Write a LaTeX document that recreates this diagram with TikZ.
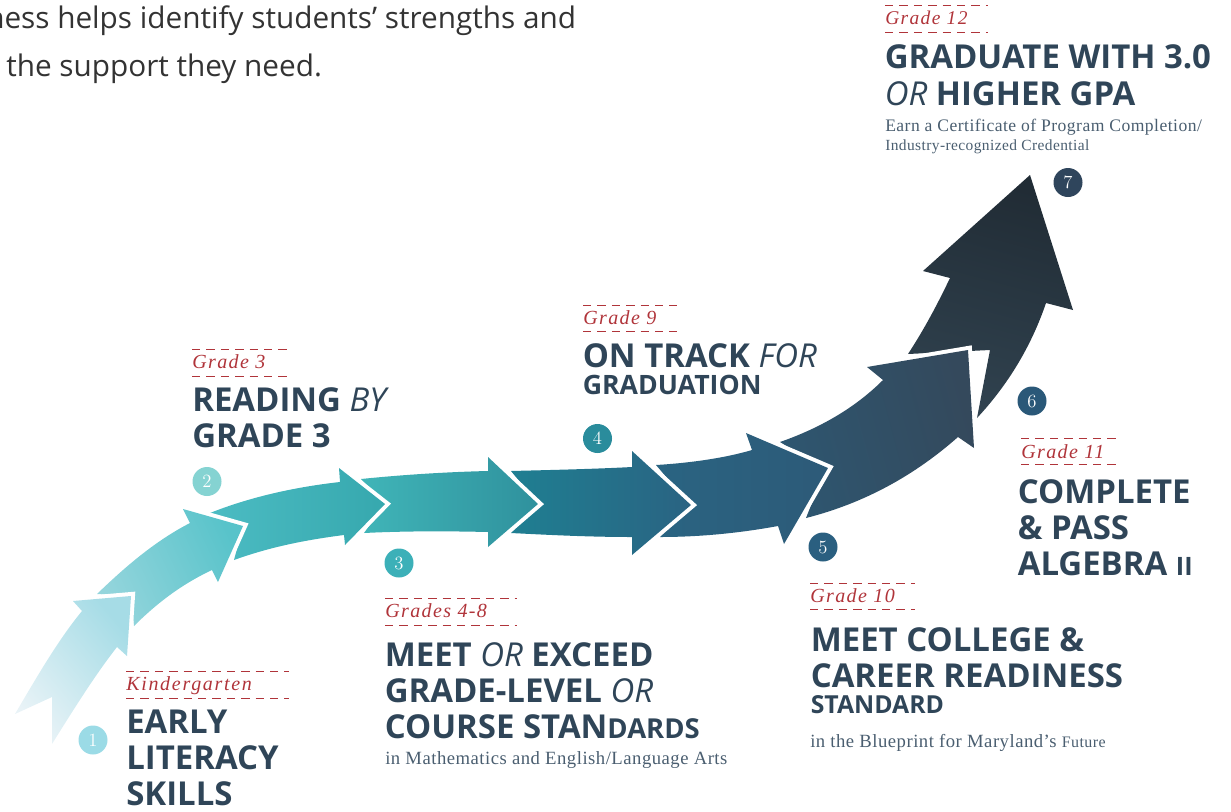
\documentclass[tikz,border=0pt]{standalone}
\usepackage{fontspec}
\setmainfont{Open Sans}
\newfontfamily\lorafont{Liberation Serif}
\newfontfamily\loraA[LetterSpace=2.7]{Liberation Serif}
\newfontfamily\loraB[LetterSpace=2.6]{Liberation Serif}
\newfontfamily\gradefont[LetterSpace=7]{Liberation Serif}
\newfontfamily\gradefontwide[LetterSpace=8.5]{Liberation Serif}
\definecolor{navy}{HTML}{2F4558}
\definecolor{gradered}{HTML}{B0343A}
\definecolor{subgrey}{HTML}{4A5E70}
\definecolor{bodygrey}{HTML}{333333}
\definecolor{sAa}{HTML}{30424F}\definecolor{sAb}{HTML}{212C35}
\definecolor{sBa}{HTML}{2E5670}\definecolor{sBb}{HTML}{34495C}
\definecolor{sCa}{HTML}{2A6482}\definecolor{sCb}{HTML}{2D5A78}
\definecolor{sDa}{HTML}{1F7F92}\definecolor{sDb}{HTML}{2A6382}
\definecolor{sEa}{HTML}{40B5B8}\definecolor{sEb}{HTML}{2F919D}
\definecolor{sFa}{HTML}{4CBCC3}\definecolor{sFb}{HTML}{36A8AE}
\definecolor{sGa}{HTML}{94D5DC}\definecolor{sGb}{HTML}{58C3CA}
\definecolor{sHa}{HTML}{E9F3F7}\definecolor{sHb}{HTML}{A6DCE6}
\definecolor{dA}{HTML}{9BDBE6}\definecolor{dB}{HTML}{85D3D2}
\definecolor{dC}{HTML}{3CB0B8}\definecolor{dD}{HTML}{2A8C9C}
\definecolor{dE}{HTML}{2A5F80}\definecolor{dF}{HTML}{2A5878}
\definecolor{dG}{HTML}{2F455C}
\newcommand{\seg}[5]{%
  \draw[white,line width=6pt,miter limit=20,line join=miter] #3;
  \shade[top color=#2,bottom color=#1,shading angle=#4] #5;}
\tikzset{
  head/.style={anchor=base west,inner sep=0,text=navy,font=\fontsize{24.7}{27}\selectfont\bfseries},
  headsmall/.style={anchor=base west,inner sep=0,text=navy,font=\fontsize{20}{22}\selectfont\bfseries},
  grade/.style={anchor=base west,inner sep=0,text=gradered,font=\fontsize{15}{16}\gradefont\itshape},
  subtext/.style={anchor=base west,inner sep=0,text=subgrey,font=\fontsize{14}{15}\loraA},
  body/.style={anchor=base west,inner sep=0,text=bodygrey,font=\fontsize{22.3}{26}\selectfont},
  num/.style={circle,minimum size=21.75pt,inner sep=0,text=white,font=\fontsize{14}{14}\fontspec{Latin Modern Roman}},
  rule/.style={gradered,line width=.75pt,dash pattern=on 6.3pt off 4.5pt},
}
\begin{document}
\begin{tikzpicture}[x=.75pt,y=-.75pt]
\useasboundingbox (0,0) rectangle (1231,811);
\clip (0,0) rectangle (1231,811);
% arrow, last segment first
\seg{sAa}{sAb}{(923,271)--(1030,175)--(1073,310)}{-15}
  {(908,354) .. controls (925,328) and (938,303) .. (950,278) -- (923,271) -- (1030,175) -- (1073,310) -- (1046,303) .. controls (1030,350) and (1005,388) .. (977,418) -- (990,350) -- cycle}
\seg{sBa}{sBb}{(867,367)--(968,350)--(974,448)}{-75}
  {(780,442) .. controls (820,428) and (855,408) .. (883,380) -- (867,367) -- (968,350) -- (974,448) -- (958,437) .. controls (915,475) and (865,503) .. (806,518) -- (825,470) -- cycle}
\seg{sCa}{sCb}{(746,433)--(828,468)--(784,544)}{-90}
  {(656,465) .. controls (690,463) and (725,458) .. (752,450) -- (746,433) -- (828,468) -- (784,544) -- (778,526) .. controls (740,533) and (700,537) .. (660,537) -- (690,505) -- cycle}
\seg{sDa}{sDb}{(632,451)--(691,505)--(632,555)}{-90}
  {(511,471) .. controls (550,470) and (595,469) .. (632,467) -- (632,451) -- (691,505) -- (632,555) -- (632,537) .. controls (590,537) and (550,535) .. (511,533) -- (538,504) -- cycle}
\seg{sEa}{sEb}{(488,457)--(538,504)--(488,547)}{-90}
  {(361,479) .. controls (400,475) and (445,472) .. (488,471) -- (488,457) -- (538,504) -- (488,547) -- (488,532) .. controls (445,531) and (405,531) .. (364,533) -- (385,504) -- cycle}
\seg{sFa}{sFb}{(339,468)--(385,504)--(345,545)}{-90}
  {(210,513) .. controls (250,497) and (295,487) .. (340,482) -- (339,468) -- (385,504) -- (345,545) -- (344,535) .. controls (305,540) and (270,547) .. (234,560) -- (243,526) -- cycle}
\seg{sGa}{sGb}{(183,509)--(243,526)--(218,582)}{-65}
  {(97,594) .. controls (125,567) and (155,541) .. (190,523) -- (183,509) -- (243,526) -- (218,582) -- (212,570) .. controls (180,585) and (155,605) .. (134,626) -- (131,596) -- cycle}
\seg{sHa}{sHb}{(73,601)--(131,596)--(127,656)}{-50}
  {(15,714) .. controls (35,680) and (58,640) .. (82,611) -- (73,601) -- (131,596) -- (127,656) -- (117,647) .. controls (95,675) and (72,712) .. (52,744) -- (52,697) -- cycle}
% numbered discs
\node[num,fill=dA] (n1) at (93,740) {1};
\node[num,fill=dB] (n2) at (207,481.5) {2};
\node[num,fill=dC] (n3) at (399,563) {3};
\node[num,fill=dD] (n4) at (597.5,438.5) {4};
\node[num,fill=dE] (n5) at (823,547) {5};
\node[num,fill=dF] (n6) at (1032,401) {6};
\node[num,fill=dG] (n7) at (1068,182.5) {7};
% dashed rules
\draw[rule] (126,671.5) -- (289,671.5) (126,698.5) -- (289,698.5);
\draw[rule] (192,349.5) -- (287,349.5) (192,376.5) -- (287,376.5);
\draw[rule] (385,598.5) -- (517,598.5) (385,625.5) -- (517,625.5);
\draw[rule] (583,305.5) -- (677,305.5) (583,331.5) -- (677,331.5);
\draw[rule] (810,583.5) -- (915,583.5) (810,609.5) -- (915,609.5);
\draw[rule] (1021,438.5) -- (1120,438.5) (1021,464.5) -- (1120,464.5);
\draw[rule] (885,5.5) -- (988,5.5) (885,32.5) -- (988,32.5);
% grades
\node[grade,font=\fontsize{15}{16}\gradefontwide\itshape] (g1) at (126,690) {Kindergarten};
\node[grade] (g2) at (192,368) {Grade 3};
\node[grade] (g3) at (385,617) {Grades 4-8};
\node[grade] (g4) at (583,324) {Grade 9};
\node[grade] (g5) at (810,602) {Grade 10};
\node[grade] (g6) at (1021,458) {Grade 11};
\node[grade,font=\fontsize{14.6}{16}\gradefont\itshape] (g7) at (885,24) {Grade 12};
% headings
\node[head] (a1) at (126,733) {EARLY};
\node[head] (a2) at (126,769) {LITERACY};
\node[head] (a3) at (126,805) {SKILLS};
\node[head] (b1) at (192,411) {READING \mdseries\itshape BY};
\node[head] (b2) at (192,447) {GRADE 3};
\node[head] (c1) at (384.5,666) {MEET \mdseries\itshape OR \bfseries\upshape EXCEED};
\node[head] (c2) at (384.5,702) {GRADE-LEVEL \mdseries\itshape OR};
\node[head] (c3) at (384.5,738) {COURSE STAN{\fontsize{20.6}{24}\selectfont DARDS}};
\node[subtext] (c4) at (385,764) {in Mathematics and English/Language Arts};
\node[head] (d1) at (582.5,367) {ON TRACK \mdseries\itshape FOR};
\node[headsmall] (d2) at (582.5,394) {GRADUATION};
\node[head] (e1) at (810.5,651) {MEET COLLEGE \&};
\node[head] (e2) at (810.5,687) {CAREER READINESS};
\node[headsmall,font=\fontsize{18.6}{22}\selectfont\bfseries] (e3) at (810.5,713) {STANDARD};
\node[subtext] (e4) at (810,747) {in the Blueprint for Maryland’s {\fontsize{12}{12}\selectfont Future}};
\node[head] (f1) at (1017.5,503) {COMPLETE};
\node[head] (f2) at (1017.5,539) {\& PASS};
\node[head] (f3) at (1017.5,575) {ALGEBRA {\fontsize{19}{22}\selectfont II}};
\node[head] (h1) at (884.5,68) {GRADUATE WITH 3.0};
\node[head] (h2) at (884.5,105) {\mdseries\itshape OR \bfseries\upshape HIGHER GPA};
\node[subtext,font=\fontsize{13.2}{15}\loraB] (h3) at (885,131) {Earn a Certificate of Program Completion/};
\node[subtext,font=\fontsize{11.6}{13}\loraB] (h4) at (885,150) {Industry-recognized Credential};
% clipped lead text
\node[body] (t1) at (-14,28) {ness helps identify students’ strengths and};
\node[body] (t2) at (6,76) {the support they need.};
\end{tikzpicture}
\end{document}
